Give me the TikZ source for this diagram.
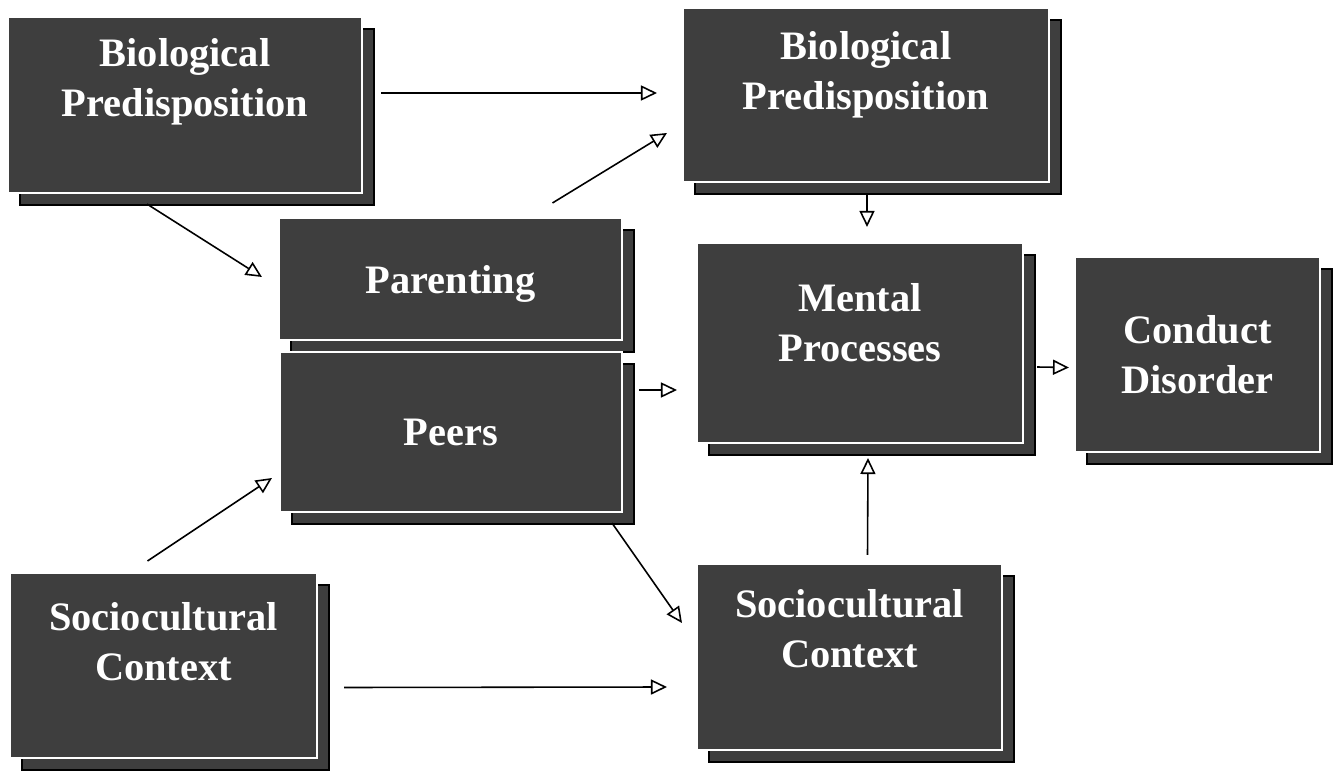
\documentclass[tikz,border=0pt]{standalone}
\usepackage{fontspec}
\setmainfont{Liberation Serif}
\usetikzlibrary{arrows.meta,shadows}
\definecolor{boxGray}{RGB}{62,62,62}
\newcommand{\shadowsep}{0.24cm}
\tikzset{
  >={Triangle[open,length=0.32cm,width=0.3cm]},
  font=\bfseries\fontsize{23}{28.5}\selectfont,
  box/.style={draw=white,line width=1.2pt,fill=boxGray,text=white,shape=rectangle,align=center,inner sep=0pt,
    general shadow={fill=boxGray,draw=black,line width=1.2pt,shadow xshift=\shadowsep,shadow yshift=-\shadowsep}},
  lift/.style={text depth=#1},
  line/.style={draw,->,line width=0.9pt},
}
\begin{document}
\begin{tikzpicture}[x=0.02cm,y=-0.02cm]
  \useasboundingbox (0,0) rectangle (1342,773);
  % left column
  \node (bioL) [box,minimum width=7.08cm,minimum height=3.52cm,lift=31pt] at (185,105) {Biological\\Predisposition};
  \node (socL) [box,minimum width=6.14cm,minimum height=3.7cm,lift=27pt] at (163.5,665.5) {Sociocultural\\Context};
  % middle column
  \node (parenting) [box,minimum width=6.86cm,minimum height=2.44cm,lift=0pt] at (450.5,279) {Parenting};
  \node (peers) [box,minimum width=6.84cm,minimum height=3.2cm] at (451,432) {Peers};
  % right column
  \node (bioR) [box,minimum width=7.32cm,minimum height=3.48cm,lift=28pt] at (866,95) {Biological\\Predisposition};
  \node (mental) [box,minimum width=6.52cm,minimum height=4cm,lift=23pt] at (860,343) {Mental\\Processes};
  \node (socR) [box,minimum width=6.1cm,minimum height=3.72cm,lift=32pt] at (849.5,657) {Sociocultural\\Context};
  \node (conduct) [box,minimum width=4.9cm,minimum height=3.9cm] at (1197.5,354.5) {Conduct\\Disorder};
  % connectors
  \path [line] ([shift={(18,-12)}]bioL.east) -- ([shift={(-25,-2)}]bioR.west);
  \path [line] ([shift={(-38,10)}]bioL.south) -- ([shift={(-16,-2)}]parenting.west);
  \path [line] ([shift={(102,-14)}]parenting.north) -- ([shift={(-15,38)}]bioR.west);
  \path [line] ([shift={(1,12)}]bioR.south) -- ([shift={(7,-15)}]mental.north);
  \path [line] ([shift={(16,-42)}]peers.east) -- ([shift={(-19,47)}]mental.west);
  \path [line] ([shift={(13,24)}]mental.east) -- ([shift={(-5,13)}]conduct.west);
  \path [line] ([shift={(18,-8)}]socR.north) -- ([shift={(8,14)}]mental.south);
  \path [line] ([shift={(-16,-11)}]socL.north) -- ([shift={(-7,46)}]peers.west);
  \path [line] ([shift={(-11,10)}]peers.south east) -- ([shift={(-14,-34)}]socR.west);
  \path [line] ([shift={(26,22)}]socL.east) -- ([shift={(-29,30)}]socR.west);
\end{tikzpicture}
\end{document}
